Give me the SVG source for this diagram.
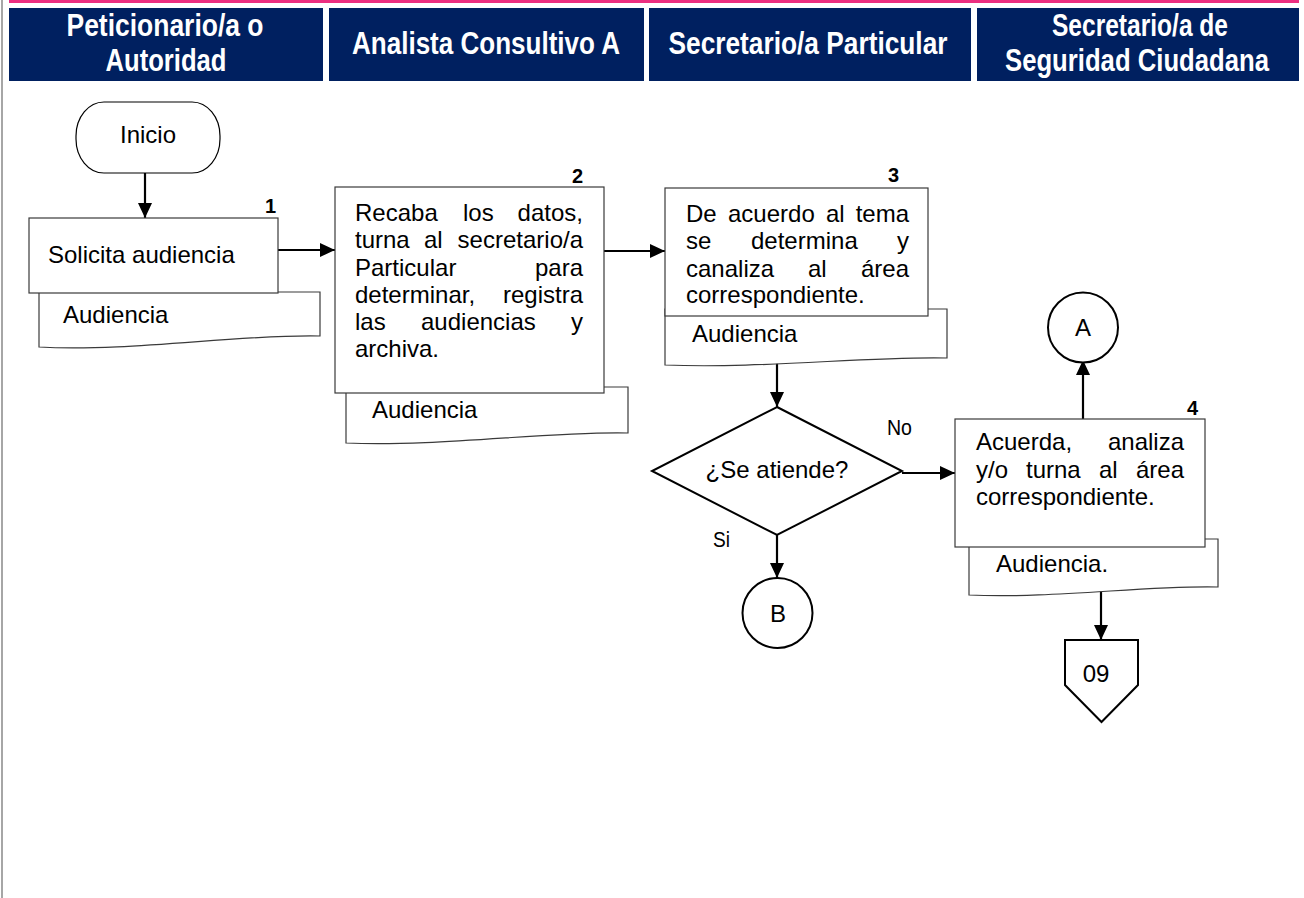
<svg xmlns="http://www.w3.org/2000/svg" width="1304" height="898" viewBox="0 0 1304 898">
  <style>
    .hdr { fill: #002060; }
    .hdrtxt { font-family: "Liberation Sans Narrow", "Arial Narrow", "Liberation Sans", Arial, sans-serif; font-weight: bold; font-size: 31px; fill: #ffffff; text-anchor: middle; }
    .t { font-family: "Liberation Sans", Arial, sans-serif; font-size: 24px; fill: #000000; }
    .end { text-anchor: end; }
    .mid { text-anchor: middle; }
    .num { font-family: "Liberation Sans", Arial, sans-serif; font-weight: bold; font-size: 20px; fill: #000000; text-anchor: end; }
    .lbl { font-family: "Liberation Sans Narrow", "Arial Narrow", "Liberation Sans", Arial, sans-serif; font-size: 22px; fill: #000000; }
    .box { fill: #ffffff; stroke: #3a3a3a; stroke-width: 1.2; }
    .doc { fill: #ffffff; stroke: #3a3a3a; stroke-width: 1.2; }
    .bold { fill: #ffffff; stroke: #000000; stroke-width: 2; }
    .thin { fill: #ffffff; stroke: #000000; stroke-width: 1.2; }
    .conn { fill: none; stroke: #000000; stroke-width: 2.2; marker-end: url(#arrow); }
  </style>
  <defs>
    <marker id="arrow" markerUnits="userSpaceOnUse" markerWidth="15" markerHeight="14" refX="15" refY="7" orient="auto">
      <path d="M0,0 L15,7 L0,14 Z" fill="#000000"/>
    </marker>
  </defs>

  <!-- page frame and title band -->
  <rect x="0" y="0" width="1304" height="898" fill="#ffffff"/>
  <rect x="1" y="0" width="2" height="898" fill="#a6a6a6"/>
  <rect x="9" y="0" width="1290" height="3" fill="#ec2f80"/>

  <!-- lane headers -->
  <g id="lane-headers">
    <rect class="hdr" x="9" y="8" width="314" height="73"/>
    <rect class="hdr" x="329" y="8" width="315" height="73"/>
    <rect class="hdr" x="649" y="8" width="322" height="73"/>
    <rect class="hdr" x="977" y="8" width="322" height="73"/>
    <text class="hdrtxt" x="165" y="36" textLength="197" lengthAdjust="spacingAndGlyphs">Peticionario/a o</text>
    <text class="hdrtxt" x="166" y="71" textLength="121" lengthAdjust="spacingAndGlyphs">Autoridad</text>
    <text class="hdrtxt" x="486" y="54" textLength="268" lengthAdjust="spacingAndGlyphs">Analista Consultivo A</text>
    <text class="hdrtxt" x="808" y="54" textLength="279" lengthAdjust="spacingAndGlyphs">Secretario/a Particular</text>
    <text class="hdrtxt" x="1140" y="36" textLength="176" lengthAdjust="spacingAndGlyphs">Secretario/a de</text>
    <text class="hdrtxt" x="1137" y="71" textLength="264" lengthAdjust="spacingAndGlyphs">Seguridad Ciudadana</text>
  </g>

  <!-- connectors -->
  <g id="connectors">
    <path class="conn" d="M145,173 L145,218"/>
    <path class="conn" d="M278,250 L335,250"/>
    <path class="conn" d="M604,251 L665,251"/>
    <path class="conn" d="M777,361 L777,407"/>
    <path class="conn" d="M777,535 L777,578"/>
    <path class="conn" d="M902,473 L955,473"/>
    <path class="conn" d="M1083,419 L1083,360"/>
    <path class="conn" d="M1101,591 L1101,640"/>
    <text class="lbl" x="887" y="435" textLength="25" lengthAdjust="spacingAndGlyphs">No</text>
    <text class="lbl" x="713" y="547" textLength="17" lengthAdjust="spacingAndGlyphs">Si</text>
  </g>

  <!-- start -->
  <g id="inicio">
    <rect class="thin" x="76" y="102" width="144" height="71" rx="28" ry="34"/>
    <text class="t mid" x="148" y="143" font-size="23">Inicio</text>
  </g>

  <!-- step 1 -->
  <g id="step1">
    <path class="doc" d="M39,292 H320 V336 C240,334 130,352 39,347 Z"/>
    <rect class="box" x="29" y="218" width="249" height="75"/>
    <text class="num" x="276" y="213">1</text>
    <text class="t" x="48" y="263">Solicita audiencia</text>
    <text class="t" x="63" y="323">Audiencia</text>
  </g>

  <!-- step 2 -->
  <g id="step2">
    <path class="doc" d="M346,387 H628 V433 C550,431 440,447 346,443 Z"/>
    <rect class="box" x="335" y="187" width="269" height="206"/>
    <text class="num" x="583" y="183">2</text>
    <text class="t" x="355" y="221">Recaba</text>
    <text class="t" x="463" y="221">los</text>
    <text class="t end" x="583" y="221">datos,</text>
    <text class="t" x="355" y="248">turna</text>
    <text class="t" x="424" y="248">al</text>
    <text class="t end" x="583" y="248">secretario/a</text>
    <text class="t" x="355" y="276">Particular</text>
    <text class="t end" x="583" y="276">para</text>
    <text class="t" x="355" y="303">determinar,</text>
    <text class="t end" x="583" y="303">registra</text>
    <text class="t" x="355" y="330">las</text>
    <text class="t" x="421" y="330">audiencias</text>
    <text class="t end" x="583" y="330">y</text>
    <text class="t" x="355" y="357">archiva.</text>
    <text class="t" x="372" y="418">Audiencia</text>
  </g>

  <!-- step 3 -->
  <g id="step3">
    <path class="doc" d="M665,309 H947 V358 C870,356 760,369 665,365 Z"/>
    <rect class="box" x="665" y="188" width="263" height="128"/>
    <text class="num" x="899" y="182">3</text>
    <text class="t" x="686" y="222">De</text>
    <text class="t" x="728" y="222">acuerdo</text>
    <text class="t" x="826" y="222">al</text>
    <text class="t end" x="909" y="222">tema</text>
    <text class="t" x="686" y="249">se</text>
    <text class="t" x="751" y="249">determina</text>
    <text class="t end" x="909" y="249">y</text>
    <text class="t" x="686" y="277">canaliza</text>
    <text class="t" x="808" y="277">al</text>
    <text class="t end" x="909" y="277">área</text>
    <text class="t" x="686" y="303">correspondiente.</text>
    <text class="t" x="692" y="342">Audiencia</text>
  </g>

  <!-- decision -->
  <g id="decision">
    <path class="bold" d="M777,407 L902,471 L777,535 L652,471 Z" stroke-width="1.6"/>
    <text class="t mid" x="777" y="478">¿Se atiende?</text>
  </g>

  <!-- connector B -->
  <g id="connector-b">
    <circle class="bold" cx="777.5" cy="613" r="35"/>
    <text class="t mid" x="778" y="622">B</text>
  </g>

  <!-- step 4 -->
  <g id="step4">
    <path class="doc" d="M969,539 H1218 V587 C1150,585 1050,599 969,595 Z"/>
    <rect class="box" x="955" y="419" width="250" height="128"/>
    <text class="num" x="1198" y="415">4</text>
    <text class="t" x="976" y="450">Acuerda,</text>
    <text class="t end" x="1184" y="450">analiza</text>
    <text class="t" x="976" y="478">y/o</text>
    <text class="t" x="1026" y="478">turna</text>
    <text class="t" x="1099" y="478">al</text>
    <text class="t end" x="1184" y="478">área</text>
    <text class="t" x="976" y="505">correspondiente.</text>
    <text class="t" x="996" y="572">Audiencia.</text>
  </g>

  <!-- connector A -->
  <g id="connector-a">
    <circle class="bold" cx="1083" cy="327.5" r="35"/>
    <text class="t mid" x="1083" y="336">A</text>
  </g>

  <!-- off-page connector 09 -->
  <g id="offpage-09">
    <path class="bold" d="M1065,640 H1138 V685 L1101.5,722 L1065,685 Z"/>
    <text class="t mid" x="1096" y="682" font-size="22">09</text>
  </g>
</svg>
